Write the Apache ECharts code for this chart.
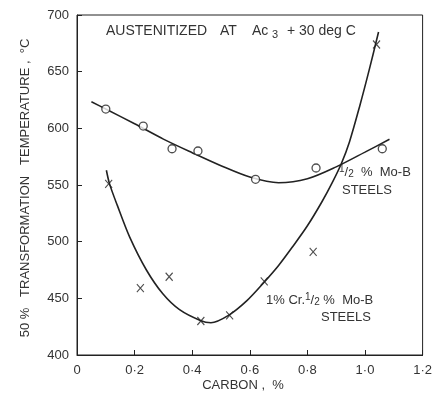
<!DOCTYPE html>
<html>
<head>
<meta charset="utf-8">
<script src="https://cdn.jsdelivr.net/npm/echarts@6/dist/echarts.min.js"></script>
<style>html,body{margin:0;padding:0;background:#fff}#c{width:435px;height:396px}</style>
</head>
<body>
<div id="c"></div>
<script>
// Measured points: 1/2% Mo-B steels (circles)
const moB_carbon = [0.10, 0.23, 0.33, 0.42, 0.62, 0.83, 1.06];
const moB_temp   = [617, 602, 582, 580, 555, 565, 582];
// Fitted curve, 1/2% Mo-B
const moBCurve_carbon = [0.05, 0.10, 0.20, 0.30, 0.40, 0.50, 0.60, 0.70, 0.80, 0.90, 1.00, 1.085];
const moBCurve_temp   = [623.5, 617, 604, 590.5, 578.5, 567, 557, 552, 555.5, 566, 579, 590.3];
// Measured points: 1% Cr 1/2% Mo-B steels (crosses)
const crMoB_carbon = [0.11, 0.22, 0.32, 0.43, 0.53, 0.65, 0.82, 1.04];
const crMoB_temp   = [551, 459, 469, 430, 435, 465, 491, 674];
// Fitted curve, 1% Cr 1/2% Mo-B
const crCurve_carbon = [0.102, 0.113, 0.14, 0.183, 0.241, 0.298, 0.356, 0.428, 0.465, 0.526, 0.59, 0.649, 0.70, 0.75, 0.80, 0.85, 0.888, 0.918, 0.946, 0.982, 1.015, 1.047];
const crCurve_temp   = [563, 551, 532, 504, 475, 454, 440, 430.5, 428.5, 435, 448, 464, 479, 496, 514, 535, 553, 569, 588, 620, 652, 685];
// Axes
const xTicks = [0, 0.2, 0.4, 0.6, 0.8, 1.0, 1.2];
const yTicks = [400, 450, 500, 550, 600, 650, 700];

const zip = (a, b) => a.map((v, i) => [v, b[i]]);
const ink = '#222';
const txt = '#333';
const font = 'Liberation Sans';
const T = (text, x, y, size, extra) => Object.assign({
  type: 'text', x: x, y: y,
  style: Object.assign({text: text, fontSize: size, fontFamily: font, fill: txt, verticalAlign: 'middle'}, extra || {})
});
const frac = {
  a: {fontSize: 13, fontFamily: font, fill: txt},
  n: {fontSize: 10, fontFamily: font, fill: txt, padding: [0, 0, 6, 0]},
  d: {fontSize: 10, fontFamily: font, fill: txt, padding: [5, 0, 0, 0]}
};

const chart = echarts.init(document.getElementById('c'), null, {renderer: 'canvas'});
chart.setOption({
  animation: false,
  backgroundColor: '#fff',
  grid: {left: 77, right: 12, top: 15, bottom: 41, show: true, borderColor: ink, borderWidth: 1},
  xAxis: {
    type: 'value', min: xTicks[0], max: xTicks[xTicks.length - 1], interval: 0.2,
    axisLine: {show: true, lineStyle: {color: ink, width: 1}},
    axisTick: {show: true, inside: true, length: 5, lineStyle: {color: ink}},
    splitLine: {show: false},
    axisLabel: {
      margin: 9, color: txt, fontSize: 13, fontFamily: font,
      formatter: v => v === 0 ? '0' : v.toFixed(1).replace('.', '·')
    }
  },
  yAxis: {
    type: 'value', min: yTicks[0], max: yTicks[yTicks.length - 1], interval: 50,
    axisLine: {show: true, lineStyle: {color: ink, width: 1}},
    axisTick: {show: true, inside: true, length: 5, lineStyle: {color: ink}},
    splitLine: {show: false},
    axisLabel: {margin: 8, color: txt, fontSize: 13, fontFamily: font}
  },
  series: [
    {
      type: 'line', data: zip(moBCurve_carbon, moBCurve_temp), showSymbol: false,
      smooth: 0.3, lineStyle: {color: ink, width: 1.6}, z: 2
    },
    {
      type: 'line', data: zip(crCurve_carbon, crCurve_temp), showSymbol: false,
      smooth: 0.3, lineStyle: {color: ink, width: 1.6}, z: 2
    },
    {
      type: 'scatter', data: zip(moB_carbon, moB_temp), symbol: 'circle', symbolSize: 8,
      itemStyle: {color: '#fff', borderColor: ink, borderWidth: 1.3}, z: 3
    },
    {
      type: 'scatter', data: zip(crMoB_carbon, crMoB_temp),
      symbol: 'path://M0,0L8,10M8,0L0,10', symbolSize: [7, 8],
      itemStyle: {color: 'rgba(0,0,0,0)', borderColor: ink, borderWidth: 1.2}, z: 3
    }
  ],
  graphic: [
    T('AUSTENITIZED', 106, 31, 14),
    T('AT', 220, 31, 14),
    T('Ac', 252, 31, 14),
    T('3', 272, 35, 11),
    T('+ 30 deg C', 287, 31, 14),
    T('{n|1}{a|/}{d|2}{a|  %  Mo-B}', 339, 172, 13, {rich: frac}),
    T('STEELS', 342, 190, 13),
    T('{a|1% Cr.}{n|1}{a|/}{d|2}{a| %  Mo-B}', 266, 300, 13, {rich: frac}),
    T('STEELS', 321, 317, 13),
    T('CARBON ,  %', 243, 385, 13, {align: 'center'}),
    Object.assign(T('50 %   TRANSFORMATION   TEMPERATURE ,  °C', 25, 188, 13, {align: 'center'}), {rotation: Math.PI / 2})
  ]
});
</script>
</body>
</html>
